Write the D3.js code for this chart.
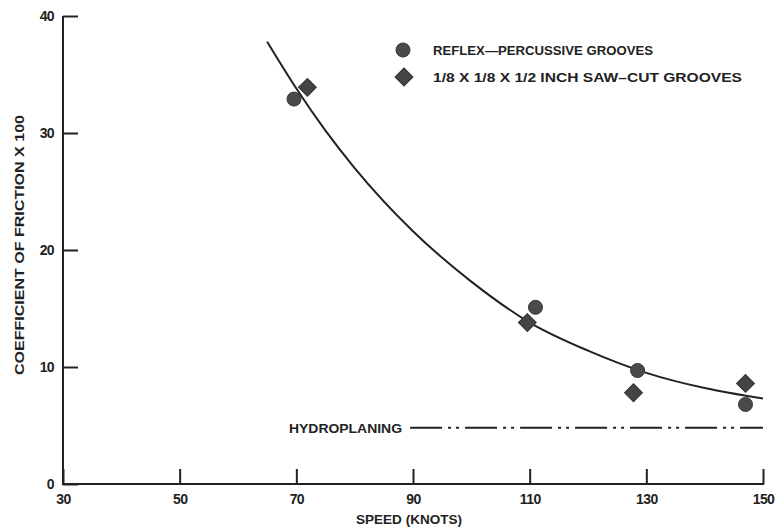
<!DOCTYPE html>
<html>
<head>
<meta charset="utf-8">
<script src="https://cdn.jsdelivr.net/npm/d3@7"></script>
<style>
  body { margin: 0; background: #fff; }
  svg text { font-family: "Liberation Sans", Arial, sans-serif; font-weight: bold; fill: #222; }
  .axis path, .axis line { stroke: #222; stroke-width: 2; }
  .axis text { font-size: 14px; letter-spacing: -0.6px; }
</style>
</head>
<body>
<svg id="chart" width="776" height="529"></svg>
<script>
// --- data ---
const xTicks = [30, 50, 70, 90, 110, 130, 150];
const yTicks = [0, 10, 20, 30, 40];

// reflex-percussive grooves (circles)
const reflexSpeed = [69.6, 111.0, 128.5, 147.0];
const reflexMu    = [32.9, 15.1, 9.7, 6.8];

// 1/8 x 1/8 x 1/2 saw-cut grooves (diamonds)
const sawSpeed = [71.9, 109.6, 127.8, 147.0];
const sawMu    = [33.9, 13.8, 7.8, 8.6];

// faired curve
const curveSpeed = [65, 70, 75, 80, 90, 100, 110, 120, 130, 140, 150];
const curveMu    = [37.8, 33.8, 30.2, 27.0, 21.6, 17.3, 13.8, 11.4, 9.5, 8.2, 7.3];

const hydroMu = 4.8;
const hydroRange = [89.5, 150];

(function () {
  const svg = d3.select("#chart");

  // scales
  const x = d3.scaleLinear().domain([30, 150]).range([63, 763]);
  const y = d3.scaleLinear().domain([0, 40]).range([484, 16]);

  // axes (ticks pointing inward)
  svg.append("g")
    .attr("class", "axis axis-x")
    .attr("transform", `translate(0, ${y(0)})`)
    .call(d3.axisBottom(x).tickValues(xTicks).tickSize(-15).tickSizeOuter(0).tickPadding(10))
    .call(g => g.select(".domain").attr("d", `M${x(30) - 1},0H${x(150) + 1}`));

  svg.append("g")
    .attr("class", "axis axis-y")
    .attr("transform", `translate(${x(30)}, 0)`)
    .call(d3.axisLeft(y).tickValues(yTicks).tickSize(-15).tickSizeOuter(0).tickPadding(9))
    .call(g => g.select(".domain").attr("d", `M0,${y(40)}V${y(0) + 1}`));

  // axis titles
  svg.append("text")
    .attr("x", 409).attr("y", 524)
    .attr("text-anchor", "middle")
    .attr("font-size", 12)
    .attr("textLength", 106)
    .attr("lengthAdjust", "spacingAndGlyphs")
    .text("SPEED  (KNOTS)");

  svg.append("text")
    .attr("transform", "translate(24, 245) rotate(-90)")
    .attr("text-anchor", "middle")
    .attr("font-size", 12)
    .attr("textLength", 260)
    .attr("lengthAdjust", "spacingAndGlyphs")
    .text("COEFFICIENT OF FRICTION  X  100");

  // faired curve
  const line = d3.line()
    .x(d => x(d[0]))
    .y(d => y(d[1]))
    .curve(d3.curveMonotoneX);

  svg.append("path")
    .datum(d3.zip(curveSpeed, curveMu))
    .attr("fill", "none")
    .attr("stroke", "#222")
    .attr("stroke-width", 2)
    .attr("d", line);

  // hydroplaning line
  svg.append("line")
    .attr("x1", x(hydroRange[0])).attr("x2", x(hydroRange[1]))
    .attr("y1", y(hydroMu)).attr("y2", y(hydroMu))
    .attr("stroke", "#222")
    .attr("stroke-width", 2)
    .attr("stroke-dasharray", "32,6,3,5,3,6");

  svg.append("text")
    .attr("x", 289).attr("y", y(hydroMu) + 5)
    .attr("font-size", 13)
    .attr("textLength", 113)
    .attr("lengthAdjust", "spacingAndGlyphs")
    .text("HYDROPLANING");

  // markers
  const diamond = d3.symbol().type(d3.symbolSquare).size(160);

  svg.selectAll("circle.reflex")
    .data(d3.zip(reflexSpeed, reflexMu))
    .join("circle")
    .attr("class", "reflex")
    .attr("cx", d => x(d[0]))
    .attr("cy", d => y(d[1]))
    .attr("r", 7)
    .attr("fill", "#4a4a4a")
    .attr("stroke", "#333")
    .attr("stroke-width", 1);

  svg.selectAll("path.saw")
    .data(d3.zip(sawSpeed, sawMu))
    .join("path")
    .attr("class", "saw")
    .attr("d", diamond)
    .attr("transform", d => `translate(${x(d[0])},${y(d[1])}) rotate(45)`)
    .attr("fill", "#444")
    .attr("stroke", "#333")
    .attr("stroke-width", 1);

  // legend
  const legend = svg.append("g").attr("transform", "translate(403, 50)");
  legend.append("circle").attr("r", 7).attr("fill", "#4a4a4a").attr("stroke", "#333");
  legend.append("path").attr("d", diamond)
    .attr("transform", "translate(1, 27) rotate(45)")
    .attr("fill", "#444").attr("stroke", "#333");
  legend.append("text").attr("x", 30).attr("y", 5)
    .attr("font-size", 12)
    .attr("textLength", 220)
    .attr("lengthAdjust", "spacingAndGlyphs")
    .text("REFLEX\u2014PERCUSSIVE  GROOVES");
  legend.append("text").attr("x", 30).attr("y", 32)
    .attr("font-size", 12)
    .attr("textLength", 309)
    .attr("lengthAdjust", "spacingAndGlyphs")
    .text("1/8 X 1/8 X 1/2 INCH SAW\u2013CUT  GROOVES");
})();
</script>
</body>
</html>
